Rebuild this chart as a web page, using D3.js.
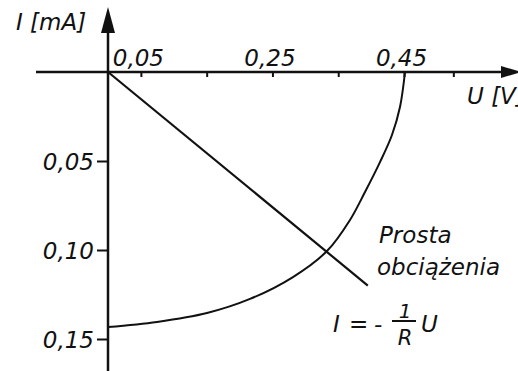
<!DOCTYPE html>
<html>
<head>
<meta charset="utf-8">
<script src="https://cdn.jsdelivr.net/npm/d3@7"></script>
<style>
  html, body { margin: 0; padding: 0; background: #fff; }
  svg { display: block; }
  text { font-family: "DejaVu Sans", "Liberation Sans", Arial, sans-serif; font-style: italic; fill: #111; }
</style>
</head>
<body>
<script>
// Diode characteristic I(U) and the load line I = -U/R
const diodeU = [0, 0.0745, 0.1505, 0.2159, 0.2812, 0.3329, 0.3679, 0.3907, 0.4135, 0.4317, 0.4439, 0.4515];
const diodeI = [0.1433, 0.1404, 0.1354, 0.1275, 0.1152, 0.1006, 0.0831, 0.0674, 0.0506, 0.0354, 0.0197, 0];

const loadU = [0, 0.395];
const loadI = [0, 0.120];

// Axis ticks
const uTicks = [0.05, 0.15, 0.25, 0.35, 0.45, 0.525];
const uLabeled = [0.05, 0.25, 0.45];
const iTicks = [0.05, 0.10, 0.15];

const W = 518, H = 371;
const ink = "#111";
const fs = 23;

const svg = d3.select("body").append("svg")
  .attr("width", W).attr("height", H);

const x = d3.scaleLinear().domain([0, 0.45]).range([108, 404]);
const y = d3.scaleLinear().domain([0, 0.15]).range([72, 339]);

const fmt = d => d3.format(".2f")(d).replace(".", ",");

// U axis: ticks below the line, labels above it
const gx = svg.append("g")
  .attr("transform", `translate(0,${y(0)})`)
  .call(d3.axisBottom(x)
    .tickValues(uTicks)
    .tickSize(5)
    .tickFormat(d => uLabeled.includes(d) ? fmt(d) : ""));
gx.select(".domain").remove();
gx.selectAll(".tick line").attr("stroke", ink).attr("stroke-width", 2);
gx.selectAll(".tick text")
  .attr("y", -6).attr("dy", 0).attr("dx", -3)
  .attr("font-size", fs)
  .attr("font-family", null)
  .attr("fill", ink);

// I axis: ticks and labels to the left
const gy = svg.append("g")
  .attr("transform", `translate(${x(0)},0)`)
  .call(d3.axisLeft(y)
    .tickValues(iTicks)
    .tickSize(11)
    .tickPadding(3)
    .tickFormat(fmt));
gy.select(".domain").remove();
gy.selectAll(".tick line").attr("stroke", ink).attr("stroke-width", 2);
gy.selectAll(".tick text")
  .attr("font-size", fs)
  .attr("font-family", null)
  .attr("dy", "0.36em")
  .attr("fill", ink);

// Axis lines with arrowheads
svg.append("line")
  .attr("x1", 36).attr("x2", 506)
  .attr("y1", y(0)).attr("y2", y(0))
  .attr("stroke", ink).attr("stroke-width", 2.5);
svg.append("path")
  .attr("d", `M521,${y(0)} L501,${y(0) - 6} L501,${y(0) + 6} Z`)
  .attr("fill", ink);

svg.append("line")
  .attr("x1", x(0)).attr("x2", x(0))
  .attr("y1", H).attr("y2", 26)
  .attr("stroke", ink).attr("stroke-width", 2.5);
svg.append("path")
  .attr("d", `M${x(0)},7 L${x(0) - 7},33 L${x(0) + 7},33 Z`)
  .attr("fill", ink);

// Diode curve
const diode = diodeU.map((u, i) => [u, diodeI[i]]);
svg.append("path")
  .datum(diode)
  .attr("fill", "none")
  .attr("stroke", ink)
  .attr("stroke-width", 2)
  .attr("d", d3.line().x(d => x(d[0])).y(d => y(d[1])).curve(d3.curveCatmullRom.alpha(0.5)));

// Load line
const load = loadU.map((u, i) => [u, loadI[i]]);
svg.append("path")
  .datum(load)
  .attr("fill", "none")
  .attr("stroke", ink)
  .attr("stroke-width", 2.2)
  .attr("d", d3.line().x(d => x(d[0])).y(d => y(d[1])));

// Axis titles
svg.append("text").attr("x", 16).attr("y", 30).attr("font-size", fs).text("I [mA]");
svg.append("text").attr("x", 467).attr("y", 104).attr("font-size", fs).text("U [V]");

// Load line annotation
svg.append("text").attr("x", 379).attr("y", 243).attr("font-size", fs).text("Prosta");
svg.append("text").attr("x", 377).attr("y", 275).attr("font-size", fs).text("obciążenia");

// Formula I = - (1/R) U
svg.append("text").attr("x", 333).attr("y", 332).attr("font-size", fs).text("I");
svg.append("text").attr("x", 349).attr("y", 332).attr("font-size", fs).text("=");
svg.append("text").attr("x", 374).attr("y", 332).attr("font-size", fs).text("-");
svg.append("text").attr("x", 405).attr("y", 318).attr("font-size", 20)
  .attr("text-anchor", "middle").text("1");
svg.append("line")
  .attr("x1", 392).attr("x2", 416).attr("y1", 321).attr("y2", 321)
  .attr("stroke", ink).attr("stroke-width", 2);
svg.append("text").attr("x", 405).attr("y", 345).attr("font-size", 21)
  .attr("text-anchor", "middle").text("R");
svg.append("text").attr("x", 421).attr("y", 332).attr("font-size", fs).text("U");
</script>
</body>
</html>
